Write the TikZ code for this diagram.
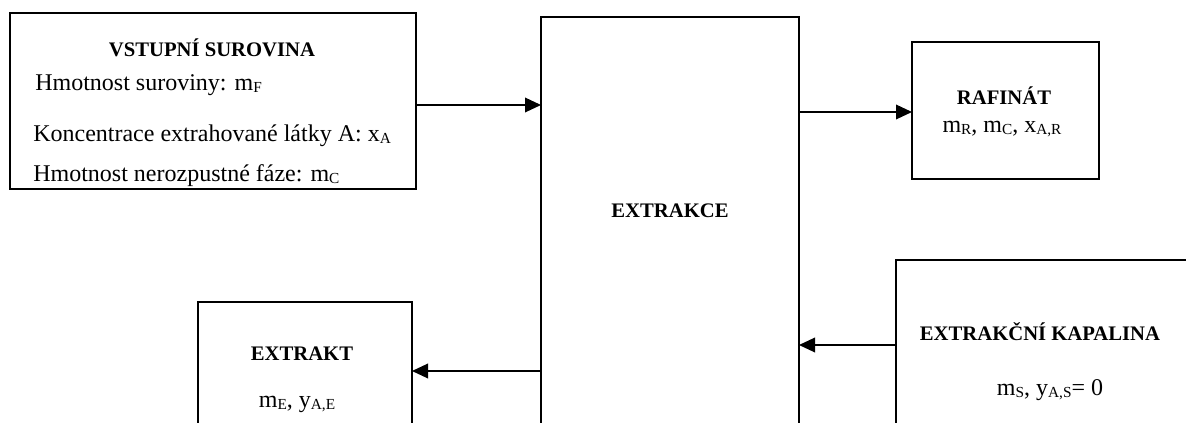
\documentclass[tikz,border=0pt]{standalone}
\usepackage{fontspec}
\setmainfont{Liberation Serif}
\usetikzlibrary{arrows.meta,fit}
\newcommand\sbs[1]{\raisebox{-1pt}{\fontsize{11.5}{11.5}\selectfont #1}}
\begin{document}
\begin{tikzpicture}[x=0.75pt,y=-0.75pt,
  box/.style={draw,line width=1pt,inner sep=0pt,outer sep=0pt},
  arr/.style={line width=1pt,-{Triangle[length=12pt,width=11pt]}},
  ttl/.style={inner sep=0pt,anchor=base,font=\fontsize{15.5}{17}\selectfont\bfseries},
  txt/.style={inner sep=0pt,anchor=base,font=\fontsize{18}{20}\selectfont},
  txtl/.style={inner sep=0pt,anchor=base west,font=\fontsize{18}{20}\selectfont}]
\useasboundingbox (0,0) rectangle (1186,423);
\clip (0,0) rectangle (1186,423);
% boxes
\node[box,fit={(10,13) (416,189)}] (feed) {};
\node[box,fit={(541,17) (799,460)}] (ext) {};
\node[box,fit={(912,42) (1099,179)}] (raf) {};
\node[box,fit={(896,260) (1220,460)}] (liq) {};
\node[box,fit={(198,302) (412,460)}] (extr) {};
% connector levels
\coordinate (y1) at (0,105);
\coordinate (y2) at (0,112);
\coordinate (y3) at (0,345);
\coordinate (y4) at (0,371);
% texts
\node[ttl] (t1) at (212,57) {VSTUPNÍ SUROVINA};
\node[txtl] (l1) at (35,91) {Hmotnost suroviny: m\sbs{F}};
\node[txtl] (l2) at (33,142) {Koncentrace extrahované látky A: x\sbs{A}};
\node[txtl] (l3) at (33,182) {Hmotnost nerozpustné fáze: m\sbs{C}};
\node[ttl] (t2) at (670,218) {EXTRAKCE};
\node[ttl] (t3) at (1004,105) {RAFINÁT};
\node[txt] (l4) at (1002,133) {m\sbs{R}, m\sbs{C}, x\sbs{A,R}};
\node[ttl] (t4) at (1040,341) {EXTRAKČNÍ KAPALINA};
\node[txt] (l5) at (1050,396) {m\sbs{S}, y\sbs{A,S}= 0};
\node[ttl] (t5) at (302,361) {EXTRAKT};
\node[txt] (l6) at (297,408) {m\sbs{E}, y\sbs{A,E}};
% connectors
\draw[arr] (feed.east |- y1) -- (ext.west |- y1);
\draw[arr] (ext.east |- y2) -- (raf.west |- y2);
\draw[arr] (liq.west |- y3) -- (ext.east |- y3);
\draw[arr] (ext.west |- y4) -- (extr.east |- y4);
\end{tikzpicture}
\end{document}
